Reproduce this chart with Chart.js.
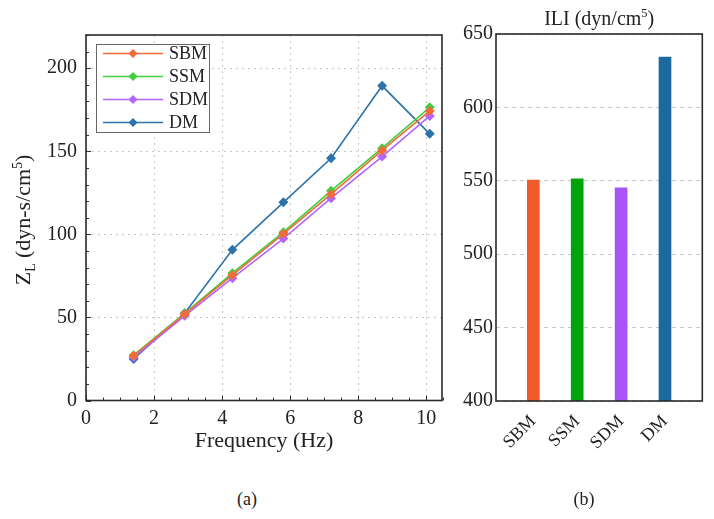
<!DOCTYPE html>
<html><head><meta charset="utf-8">
<script src="https://cdn.jsdelivr.net/npm/chart.js@4/dist/chart.umd.min.js"></script>
<style>
html,body{margin:0;padding:0;background:#fff;width:714px;height:519px;overflow:hidden;position:relative;font-family:"Liberation Serif","Times New Roman",serif;}
canvas{position:absolute;}
.cap{position:absolute;font:18px "Liberation Serif","Times New Roman",serif;color:#222;transform:translate(-50%,-50%);}
</style></head>
<body>
<canvas id="left" width="460" height="470" style="left:0;top:0;width:460px;height:470px"></canvas>
<canvas id="right" width="259" height="519" style="left:455px;top:0;width:259px;height:519px"></canvas>
<div class="cap" style="left:247px;top:499px">(a)</div>
<div class="cap" style="left:584px;top:499px">(b)</div>
<script>
// ---- data ----
const seriesNames = ['SBM', 'SSM', 'SDM', 'DM'];
const freq = [1.4, 2.9, 4.3, 5.8, 7.2, 8.7, 10.1];
const sbm = [26.9, 52.0, 75.4, 100.3, 124.2, 150.5, 174.3];
const ssm = [27.3, 52.4, 76.6, 101.3, 126.2, 151.9, 176.5];
const sdm = [26.0, 51.0, 73.6, 97.5, 121.8, 146.8, 171.3];
const dm = [25.0, 52.5, 90.7, 119.3, 145.8, 189.4, 160.5];
const yTicksLeft = [0, 50, 100, 150, 200];
const xTicksLeft = [0, 2, 4, 6, 8, 10];
const iliCategories = ['SBM', 'SSM', 'SDM', 'DM'];
const iliValues = [550.5, 551.4, 545.2, 634.3];
const yTicksRight = [400, 450, 500, 550, 600, 650];

const lineColors = ['#f26b38', '#3fcf3f', '#b266ff', '#2b73aa'];
const barColors = ['#f15a29', '#00a30a', '#a855f7', '#1a6aa0'];
const FONT = "'Liberation Serif', 'Times New Roman', serif";

function drawRich(ctx, parts, x, y, size, align) {
  const small = size * 0.62;
  let w = 0;
  parts.forEach(p => {
    ctx.font = (p.s ? small : size) + 'px ' + FONT;
    p.w = ctx.measureText(p.t).width; w += p.w;
  });
  let cx = align === 'center' ? x - w / 2 : x;
  ctx.textBaseline = 'alphabetic';
  ctx.textAlign = 'left';
  parts.forEach(p => {
    ctx.font = (p.s ? small : size) + 'px ' + FONT;
    let dy = 0;
    if (p.s === 'sub') dy = size * 0.22;
    if (p.s === 'sup') dy = -size * 0.38;
    ctx.fillText(p.t, cx, y + dy);
    cx += p.w;
  });
}

const frameAndExtras = {
  id: 'frameAndExtras',
  afterDraw(chart, args, opts) {
    const ctx = chart.ctx, a = chart.chartArea;
    ctx.save();
    if (opts.minor) {
      const xs = chart.scales.x, ys = chart.scales.y;
      ctx.strokeStyle = '#333'; ctx.lineWidth = 1;
      ctx.beginPath();
      for (let v = 0; v <= 220.001; v += 10) {
        const py = Math.round(ys.getPixelForValue(v)) + 0.5;
        const len = (v % 50 === 0) ? 5 : 3;
        ctx.moveTo(a.left, py); ctx.lineTo(a.left + len, py);
      }
      for (let v = 0; v <= 10.5; v += 0.5) {
        const px = Math.round(xs.getPixelForValue(v)) + 0.5;
        const len = (v % 2 === 0) ? 5 : 3;
        ctx.moveTo(px, a.bottom); ctx.lineTo(px, a.bottom - len);
      }
      ctx.stroke();
    }
    ctx.strokeStyle = '#2a2a2a'; ctx.lineWidth = 1.6;
    ctx.strokeRect(a.left, a.top, a.right - a.left, a.bottom - a.top);
    if (opts.legend) {
      const L = opts.legend;
      ctx.fillStyle = '#fff';
      ctx.fillRect(L.x, L.y, L.w, L.h);
      ctx.strokeStyle = '#666'; ctx.lineWidth = 1;
      ctx.strokeRect(L.x + 0.5, L.y + 0.5, L.w, L.h);
      chart.data.datasets.forEach((ds, i) => {
        const cy = L.y + 9.5 + i * 23;
        ctx.strokeStyle = ds.borderColor; ctx.lineWidth = 1.6;
        ctx.beginPath(); ctx.moveTo(L.x + 7, cy); ctx.lineTo(L.x + 67, cy); ctx.stroke();
        ctx.fillStyle = ds.borderColor;
        const r = 4.5, mx = L.x + 37;
        ctx.beginPath(); ctx.moveTo(mx, cy - r); ctx.lineTo(mx + r, cy); ctx.lineTo(mx, cy + r); ctx.lineTo(mx - r, cy); ctx.closePath(); ctx.fill();
        ctx.fillStyle = '#222'; ctx.font = '18px ' + FONT; ctx.textBaseline = 'middle'; ctx.textAlign = 'left';
        ctx.fillText(ds.label, L.x + 73, cy + 1);
      });
    }
    ctx.fillStyle = '#222';
    if (opts.yTitle) {
      ctx.save();
      ctx.translate(opts.yTitle.x, opts.yTitle.y);
      ctx.rotate(-Math.PI / 2);
      drawRich(ctx, opts.yTitle.parts, 0, 0, opts.yTitle.size, 'center');
      ctx.restore();
    }
    if (opts.title) {
      drawRich(ctx, opts.title.parts, (a.left + a.right) / 2, opts.title.y, opts.title.size, 'center');
    }
    ctx.restore();
  }
};

function build() {
  // ---- left chart ----
  const lineData = [sbm, ssm, sdm, dm];
  new Chart(document.getElementById('left'), {
    type: 'line',
    data: {
      datasets: seriesNames.map((n, i) => ({
        label: n,
        data: freq.map((f, j) => ({ x: f, y: lineData[i][j] })),
        borderColor: lineColors[i], backgroundColor: lineColors[i],
        pointBackgroundColor: lineColors[i], pointBorderColor: lineColors[i],
        borderWidth: 1.6, pointStyle: 'rectRot', pointRadius: 5, pointBorderWidth: 0,
        tension: 0, fill: false
      }))
    },
    options: {
      responsive: false, animation: false, devicePixelRatio: 1,
      font: { family: FONT },
      layout: { padding: { left: 0, top: 35, right: 18, bottom: 9.5 } },
      plugins: {
        legend: { display: false }, tooltip: { enabled: false },
        frameAndExtras: {
          minor: true,
          legend: { x: 96, y: 44, w: 113, h: 88 },
          yTitle: { x: 30, y: 220, size: 22, parts: [{ t: 'Z' }, { t: 'L', s: 'sub' }, { t: ' (dyn-s/cm' }, { t: '5', s: 'sup' }, { t: ')' }] }
        }
      },
      scales: {
        x: {
          type: 'linear', min: 0, max: 10.46,
          afterBuildTicks: s => { s.ticks = xTicksLeft.map(v => ({ value: v })); },
          afterFit: s => { s.height = 60; },
          ticks: { font: { family: FONT, size: 20 }, color: '#222', padding: 6, maxRotation: 0 },
          grid: { color: '#c8c8c8', lineWidth: 1, drawTicks: false },
          border: { display: false, dash: [2, 4] },
          title: { display: true, text: 'Frequency (Hz)', font: { family: FONT, size: 22 }, color: '#222', padding: { top: 0, bottom: 6 } }
        },
        y: {
          type: 'linear', min: 0, max: 220,
          afterBuildTicks: s => { s.ticks = yTicksLeft.map(v => ({ value: v })); },
          afterFit: s => { s.width = 86; },
          ticks: { font: { family: FONT, size: 20 }, color: '#222', padding: 9 },
          grid: { color: '#c8c8c8', lineWidth: 1, drawTicks: false },
          border: { display: false, dash: [2, 4] }
        }
      }
    },
    plugins: [frameAndExtras]
  });

  // ---- right chart ----
  new Chart(document.getElementById('right'), {
    type: 'bar',
    data: {
      datasets: [{
        label: 'ILI',
        data: iliCategories.map((c, i) => ({ x: i, y: iliValues[i] })),
        backgroundColor: barColors, borderWidth: 0, barThickness: 12
      }]
    },
    options: {
      responsive: false, animation: false, devicePixelRatio: 1,
      font: { family: FONT },
      layout: { padding: { left: 0, top: 34, right: 11.7, bottom: 38 } },
      plugins: {
        legend: { display: false }, tooltip: { enabled: false },
        frameAndExtras: {
          title: { y: 25, size: 20, parts: [{ t: 'ILI (dyn/cm' }, { t: '5', s: 'sup' }, { t: ')' }] }
        }
      },
      scales: {
        x: {
          type: 'linear', min: -0.85, max: 3.85, offset: false,
          afterBuildTicks: s => { s.ticks = iliCategories.map((c, i) => ({ value: i })); },
          afterFit: s => { s.height = 80; },
          ticks: { font: { family: FONT, size: 18 }, color: '#222', padding: 10, minRotation: 45, maxRotation: 45,
            callback: v => iliCategories[v] },
          grid: { display: false, drawTicks: false },
          border: { display: false }
        },
        y: {
          type: 'linear', min: 400, max: 650,
          afterBuildTicks: s => { s.ticks = yTicksRight.map(v => ({ value: v })); },
          afterFit: s => { s.width = 41; },
          ticks: { font: { family: FONT, size: 20 }, color: '#222', padding: 3 },
          grid: { color: '#c8c8c8', lineWidth: 1, drawTicks: false },
          border: { display: false, dash: [4, 4] }
        }
      }
    },
    plugins: [frameAndExtras]
  });
}

Chart.defaults.font.family = FONT;
const fontLoads = [
  document.fonts.load("20px 'Liberation Serif'"),
  document.fonts.load("20px 'Times New Roman'")
];
Promise.all(fontLoads).catch(() => {}).then(build);
</script>
</body></html>
